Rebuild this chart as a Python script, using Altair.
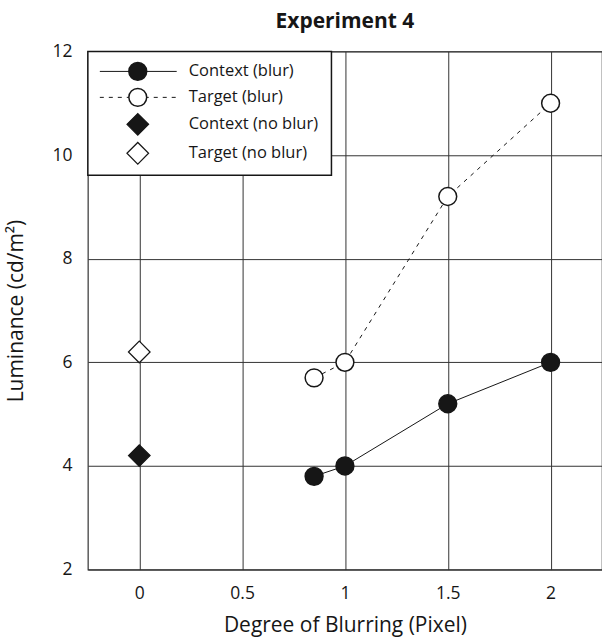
import altair as alt
import pandas as pd

# ---- data ----
blur_x = [0.85, 1.0, 1.5, 2.0]
context_blur_y = [3.8, 4.0, 5.2, 6.0]
target_blur_y = [5.7, 6.0, 9.2, 11.0]
noblur_x = [0.0]
context_noblur_y = [4.2]
target_noblur_y = [6.2]

x_ticks = [0, 0.5, 1, 1.5, 2]
y_ticks = [2, 4, 6, 8, 10, 12]
legend_labels = ["Context (blur)", "Target (blur)", "Context (no blur)", "Target (no blur)"]

FONT = "Open Sans"
INK = "#161616"

df_cb = pd.DataFrame({"x": blur_x, "y": context_blur_y})
df_tb = pd.DataFrame({"x": blur_x, "y": target_blur_y})
df_cn = pd.DataFrame({"x": noblur_x, "y": context_noblur_y})
df_tn = pd.DataFrame({"x": noblur_x, "y": target_noblur_y})
dummy = pd.DataFrame({"k": [0]})

xs = alt.Scale(domain=[-0.25, 2.25], nice=False, zero=False)
ys = alt.Scale(domain=[2, 12], nice=False, zero=False)

X = alt.X("x:Q", scale=xs, axis=alt.Axis(
    values=x_ticks, format="~g", title="Degree of Blurring (Pixel)",
    grid=True, gridColor="#333", gridWidth=1, gridOpacity=1,
    domain=False, ticks=False, labelPadding=15, titlePadding=13,
    labelFont=FONT, labelFontSize=17.5, labelColor=INK,
    titleFont=FONT, titleFontSize=21, titleFontWeight="normal", titleColor=INK))
Y = alt.Y("y:Q", scale=ys, axis=alt.Axis(
    values=y_ticks, format="~g", title="Luminance (cd/m²)",
    grid=True, gridColor="#333", gridWidth=1, gridOpacity=1,
    domain=False, ticks=False, labelPadding=16, titlePadding=25,
    labelFont=FONT, labelFontSize=17.5, labelColor=INK,
    titleFont=FONT, titleFontSize=21, titleFontWeight="normal", titleColor=INK))

circle_size = 320
diamond_size = 470

line_cb = alt.Chart(df_cb).mark_line(color=INK, strokeWidth=1).encode(x=X, y=Y)
line_tb = alt.Chart(df_tb).mark_line(color=INK, strokeWidth=1, strokeDash=[4, 5]).encode(x=X, y=Y)
pt_cb = alt.Chart(df_cb).mark_point(shape="circle", size=circle_size, filled=True, fill=INK,
                                    stroke=INK, strokeWidth=1.5, opacity=1).encode(x=X, y=Y)
pt_tb = alt.Chart(df_tb).mark_point(shape="circle", size=circle_size, filled=True, fill="white",
                                    stroke=INK, strokeWidth=1.5, opacity=1).encode(x=X, y=Y)
pt_cn = alt.Chart(df_cn).mark_point(shape="diamond", size=diamond_size, filled=True, fill=INK,
                                    stroke=INK, strokeWidth=1.2, opacity=1).encode(x=X, y=Y)
pt_tn = alt.Chart(df_tn).mark_point(shape="diamond", size=diamond_size, filled=True, fill="white",
                                    stroke=INK, strokeWidth=1.2, opacity=1).encode(x=X, y=Y)

# ---- legend box (drawn in pixel space of the plot) ----
leg_box = alt.Chart(dummy).mark_rect(fill="white", stroke=INK, strokeWidth=1.5).encode(
    x=alt.value(0), x2=alt.value(244), y=alt.value(0), y2=alt.value(124))

rows = [20, 46, 73, 102]
sym_x = 50
leg_layers = [leg_box]
leg_layers.append(alt.Chart(dummy).mark_rule(color=INK, strokeWidth=1).encode(
    x=alt.value(12), x2=alt.value(89), y=alt.value(rows[0])))
leg_layers.append(alt.Chart(dummy).mark_rule(color=INK, strokeWidth=1, strokeDash=[4, 5]).encode(
    x=alt.value(12), x2=alt.value(89), y=alt.value(rows[1])))
sym_specs = [("circle", circle_size, INK, 1.5), ("circle", circle_size, "white", 1.5),
             ("diamond", diamond_size, INK, 1.2), ("diamond", diamond_size, "white", 1.2)]
for r, (shp, sz, fc, sw), lab in zip(rows, sym_specs, legend_labels):
    leg_layers.append(alt.Chart(dummy).mark_point(shape=shp, size=sz, filled=True, fill=fc,
                                                  stroke=INK, strokeWidth=sw, opacity=1).encode(
        x=alt.value(sym_x), y=alt.value(r)))
    leg_layers.append(alt.Chart(dummy).mark_text(align="left", baseline="middle", font=FONT,
                                                 fontSize=16.5, color=INK).encode(
        x=alt.value(101), y=alt.value(r), text=alt.value(lab)))

chart = alt.layer(line_cb, line_tb, pt_cb, pt_tb, pt_cn, pt_tn, *leg_layers).properties(
    width=515, height=519,
    title=alt.TitleParams("Experiment 4", font=FONT, fontSize=21, fontWeight="bold",
                          color=INK, anchor="middle", offset=10),
    padding={"left": 88, "top": 51, "right": 0, "bottom": 68},
    autosize=alt.AutoSizeParams(type="none"),
    background="white",
).configure_view(stroke="#333", strokeWidth=1.2)

chart.save("out.html", embed_options={"renderer": "svg", "actions": False})
